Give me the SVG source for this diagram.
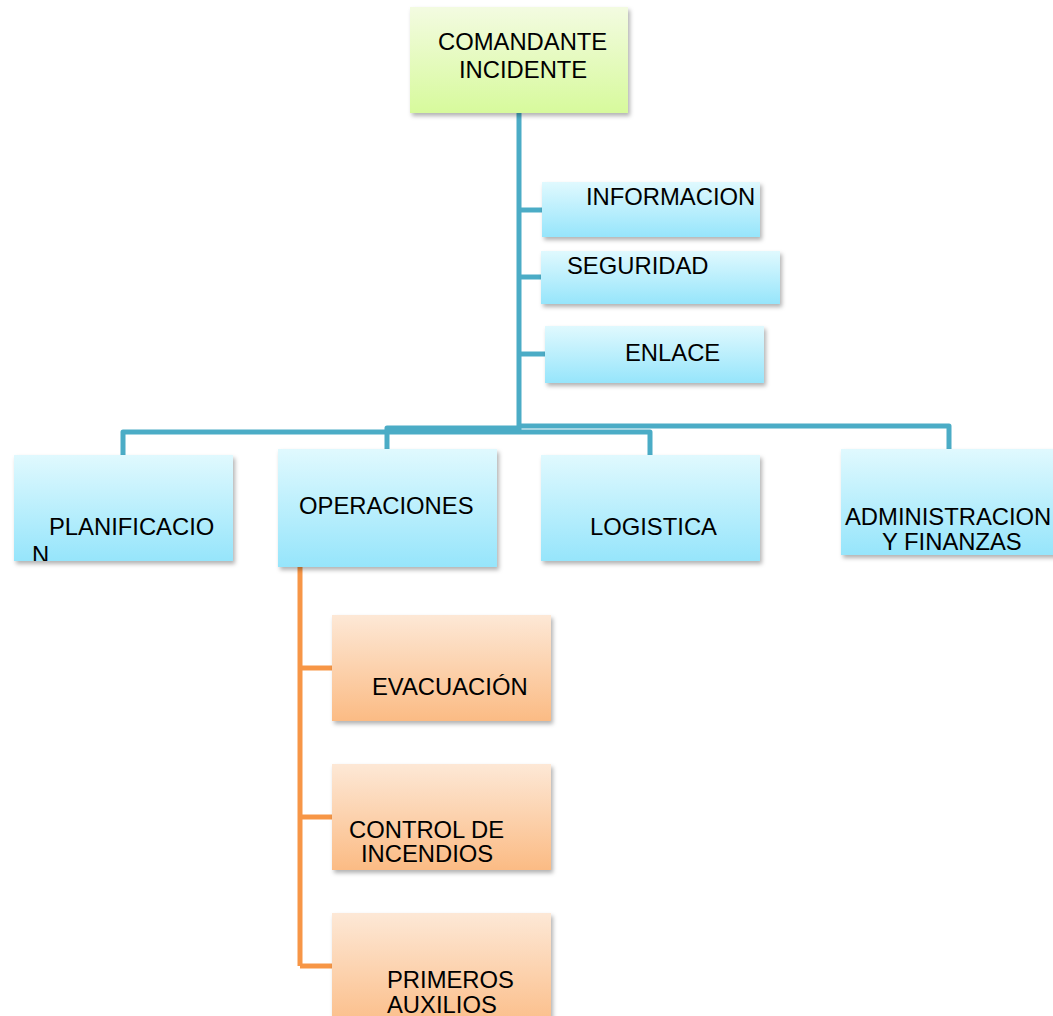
<svg xmlns="http://www.w3.org/2000/svg" width="1053" height="1016" viewBox="0 0 1053 1016">
<defs>
<linearGradient id="gBlue" x1="0" y1="0" x2="0" y2="1"><stop offset="0" stop-color="#e0f9fe"/><stop offset="1" stop-color="#96e5fb"/></linearGradient>
<linearGradient id="gGreen" x1="0" y1="0" x2="0" y2="1"><stop offset="0" stop-color="#f3fbe1"/><stop offset="1" stop-color="#d7fa9c"/></linearGradient>
<linearGradient id="gOrange" x1="0" y1="0" x2="0" y2="1"><stop offset="0" stop-color="#fde8d6"/><stop offset="1" stop-color="#fbbb84"/></linearGradient>
<filter id="sh" x="-10%" y="-10%" width="130%" height="140%"><feDropShadow dx="2" dy="3" stdDeviation="2" flood-color="#000" flood-opacity="0.3"/></filter>
<clipPath id="clipPlan"><rect x="14" y="455" width="219" height="106"/></clipPath>
</defs>
<style>
.t{font-family:"Liberation Sans",Arial,sans-serif;font-size:23.8px;fill:#000}
.blue{fill:url(#gBlue);filter:url(#sh)}
.green{fill:url(#gGreen);filter:url(#sh)}
.orange{fill:url(#gOrange);filter:url(#sh)}
.cb{fill:none;stroke:#4bacc6;stroke-width:5;stroke-linejoin:round}
.co{fill:none;stroke:#f79646;stroke-width:5;stroke-linejoin:round}
</style>
<rect width="1053" height="1016" fill="#fff"/>
<g id="connectors">
<path class="cb" d="M519,113 V433"/>
<path class="cb" d="M519,210 H542"/>
<path class="cb" d="M519,277 H541"/>
<path class="cb" d="M519,354 H545"/>
<path class="cb" d="M519,432 H123 V455"/>
<path class="cb" d="M519,428 H387 V449"/>
<path class="cb" d="M519,432 H650 V455"/>
<path class="cb" d="M519,426 H949 V449"/>
<path class="co" d="M300,567 V966"/>
<path class="co" d="M300,668 H332"/>
<path class="co" d="M300,817 H332"/>
<path class="co" d="M300,966 H332"/>
</g>
<g id="comandante"><rect class="green" x="410" y="7" width="218" height="106"/><text class="t" x="438" y="50">COMANDANTE</text><text class="t" x="459" y="78">INCIDENTE</text></g>
<g id="informacion"><rect class="blue" x="542" y="182" width="218" height="55"/><text class="t" x="586" y="205">INFORMACION</text></g>
<g id="seguridad"><rect class="blue" x="541" y="251" width="239" height="53"/><text class="t" x="567" y="274">SEGURIDAD</text></g>
<g id="enlace"><rect class="blue" x="545" y="326" width="219" height="57"/><text class="t" x="625" y="361">ENLACE</text></g>
<g id="planificacion"><rect class="blue" x="14" y="455" width="219" height="106"/><g clip-path="url(#clipPlan)"><text class="t" x="49" y="535">PLANIFICACIO</text><text class="t" x="32" y="563">N</text></g></g>
<g id="operaciones"><rect class="blue" x="278" y="449" width="219" height="118"/><text class="t" x="299" y="514">OPERACIONES</text></g>
<g id="logistica"><rect class="blue" x="541" y="455" width="219" height="106"/><text class="t" x="590" y="535">LOGISTICA</text></g>
<g id="administracion"><rect class="blue" x="841" y="449" width="230" height="106"/><text class="t" x="845" y="525">ADMINISTRACION</text><text class="t" x="882" y="550">Y FINANZAS</text></g>
<g id="evacuacion"><rect class="orange" x="332" y="615" width="219" height="106"/><text class="t" x="372" y="695">EVACUACIÓN</text></g>
<g id="control"><rect class="orange" x="332" y="764" width="219" height="106"/><text class="t" x="349" y="838">CONTROL DE</text><text class="t" x="361" y="862">INCENDIOS</text></g>
<g id="primeros"><rect class="orange" x="332" y="913" width="219" height="120"/><text class="t" x="387" y="988">PRIMEROS</text><text class="t" x="387" y="1013">AUXILIOS</text></g>
</svg>
